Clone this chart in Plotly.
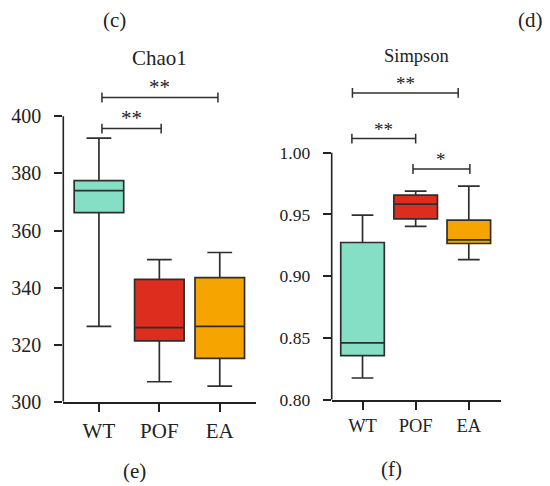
import plotly.graph_objects as go

# ---------------- data ----------------
groups = ["WT", "POF", "EA"]

chao1_lower = [326.4, 307.0, 305.5]
chao1_q1 = [366.3, 321.3, 315.2]
chao1_median = [374.0, 326.0, 326.4]
chao1_q3 = [377.5, 342.9, 343.5]
chao1_upper = [392.4, 349.8, 352.3]

simpson_lower = [0.8176, 0.9403, 0.9135]
simpson_q1 = [0.8357, 0.9465, 0.9265]
simpson_median = [0.8460, 0.9584, 0.9295]
simpson_q3 = [0.9273, 0.9657, 0.9454]
simpson_upper = [0.9495, 0.9689, 0.9730]

chao1_ticks = [300, 320, 340, 360, 380, 400]
simpson_ticks = [0.80, 0.85, 0.90, 0.95, 1.00]
simpson_ticktext = ["0.80", "0.85", "0.90", "0.95", "1.00"]

# significance brackets: (from, to, level, label)
chao1_brackets = [("WT", "POF", 395.7, "**"), ("WT", "EA", 406.6, "**")]
simpson_brackets = [("WT", "POF", 1.0114, "**"), ("POF", "EA", 0.9868, "*"),
                    ("WT", "EA", 1.0484, "**")]

# ---------------- style / layout ----------------
OFF = 8          # page body margin
SY = 0.976       # observed vertical scale of the photographed page
W, H = 542, 486
FONT = "Liberation Serif"
TXT = "#222222"
LINE = "#2e2e2e"
colors = ["#84dfc4", "#dc2d1e", "#f5a400"]


def lx(t):
    return t - OFF


def ly(t):
    return t / SY - OFF


panels = [
    dict(name="Chao1", ax="", lower=chao1_lower, q1=chao1_q1, med=chao1_median,
         q3=chao1_q3, upper=chao1_upper, ticks=chao1_ticks, ticktext=[str(t) for t in chao1_ticks],
         brackets=chao1_brackets, nudges=[(0.05, 0.03), (0.05, -0.03)],
         xpx=(63.3, 256.0), ycal=((300, 401.0), (400, 116.0)), yrange=(300, 412),
         xrange=(-0.59, 2.6), fs=21, xfs=21, yfs=20, afs=21, title_xy=(159, 58), xstand=1),
    dict(name="Simpson", ax="2", lower=simpson_lower, q1=simpson_q1, med=simpson_median,
         q3=simpson_q3, upper=simpson_upper, ticks=simpson_ticks, ticktext=simpson_ticktext,
         brackets=simpson_brackets, nudges=[(-0.2, 0.0), (-0.05, 0.02), (-0.19, -0.2)],
         xpx=(331.7, 500.7), ycal=((0.80, 399.0), (1.00, 152.3)), yrange=(0.80, 1.062),
         xrange=(-0.58, 2.6), fs=18.5, xfs=18.5, yfs=17.5, afs=19, title_xy=(416, 56), xstand=0),
]

fig = go.Figure()
shapes = []
annotations = []

for p in panels:
    xa = "x" + p["ax"]
    ya = "y" + p["ax"]
    (v0, p0), (v1, p1) = p["ycal"]
    p0, p1 = ly(p0), ly(p1)
    scale = (p1 - p0) / (v1 - v0)  # px per unit (negative)

    def pix(v):
        return p0 + (v - v0) * scale

    ydom = [1 - pix(p["yrange"][0]) / H, 1 - pix(p["yrange"][1]) / H]
    xdom = [lx(p["xpx"][0]) / W, lx(p["xpx"][1]) / W]

    for i, g in enumerate(groups):
        fig.add_trace(go.Box(
            x=[i], q1=[p["q1"][i]], median=[p["med"][i]], q3=[p["q3"][i]],
            lowerfence=[p["lower"][i]], upperfence=[p["upper"][i]],
            fillcolor=colors[i], line=dict(color=LINE, width=1.7),
            width=0.82, whiskerwidth=0.5, boxpoints=False, showlegend=False,
            hoverinfo="skip", xaxis=xa, yaxis=ya, name=g,
        ))

    # brackets
    d = 5.0 / abs(scale)
    for (a, b, lvl, lab), (na, nb) in zip(p["brackets"], p["nudges"]):
        xa_ = groups.index(a) + na
        xb_ = groups.index(b) + nb
        fig.add_trace(go.Scatter(
            x=[xa_, xa_, None, xa_, xb_, None, xb_, xb_],
            y=[lvl - d, lvl + d, None, lvl, lvl, None, lvl - d, lvl + d],
            mode="lines", line=dict(color=LINE, width=1.5),
            showlegend=False, hoverinfo="skip", xaxis=xa, yaxis=ya,
        ))
        annotations.append(dict(
            x=(xa_ + xb_) / 2, y=lvl, xref=xa, yref=ya, text=lab, showarrow=False,
            yanchor="bottom", yshift=-3, font=dict(family=FONT, size=p["afs"], color=TXT),
        ))

    # y axis line only over tick span
    shapes.append(dict(type="line", xref=xa + " domain", yref=ya, x0=0, x1=0,
                       y0=p["ticks"][0], y1=p["ticks"][-1],
                       line=dict(color=TXT, width=1.6)))

    axis_x = dict(domain=xdom, range=list(p["xrange"]), tickvals=[0, 1, 2], ticktext=groups,
                  showline=True, linecolor=TXT, linewidth=1.6, ticks="outside", ticklen=8,
                  tickwidth=1.5, tickcolor=TXT, showgrid=False, zeroline=False,
                  anchor=ya, tickfont=dict(family=FONT, size=p["xfs"], color=TXT),
                  ticklabelstandoff=p["xstand"])
    axis_y = dict(domain=ydom, range=list(p["yrange"]), tickvals=p["ticks"], ticktext=p["ticktext"],
                  showline=False, ticks="outside", ticklen=8, tickwidth=1.5, tickcolor=TXT,
                  showgrid=False, zeroline=False, anchor=xa,
                  tickfont=dict(family=FONT, size=p["yfs"], color=TXT), ticklabelstandoff=9)
    fig.update_layout(**{"xaxis" + p["ax"]: axis_x, "yaxis" + p["ax"]: axis_y})

    annotations.append(dict(x=lx(p["title_xy"][0]) / W, y=1 - ly(p["title_xy"][1]) / H,
                            xref="paper", yref="paper", text=p["name"], showarrow=False,
                            xanchor="center", yanchor="middle",
                            font=dict(family=FONT, size=p["fs"], color=TXT)))

for lab, (tx, ty) in [("(c)", (114.3, 20)), ("(d)", (530, 20)),
                      ("(e)", (134.7, 470)), ("(f)", (391.5, 468))]:
    annotations.append(dict(x=lx(tx) / W, y=1 - ly(ty) / H, xref="paper", yref="paper",
                            text=lab, showarrow=False, xanchor="center", yanchor="middle",
                            font=dict(family=FONT, size=21, color=TXT)))

fig.update_layout(
    width=W, height=H, margin=dict(l=0, r=0, t=0, b=0),
    paper_bgcolor="white", plot_bgcolor="white",
    shapes=shapes, annotations=annotations, showlegend=False,
)

fig.write_html("out.html")
